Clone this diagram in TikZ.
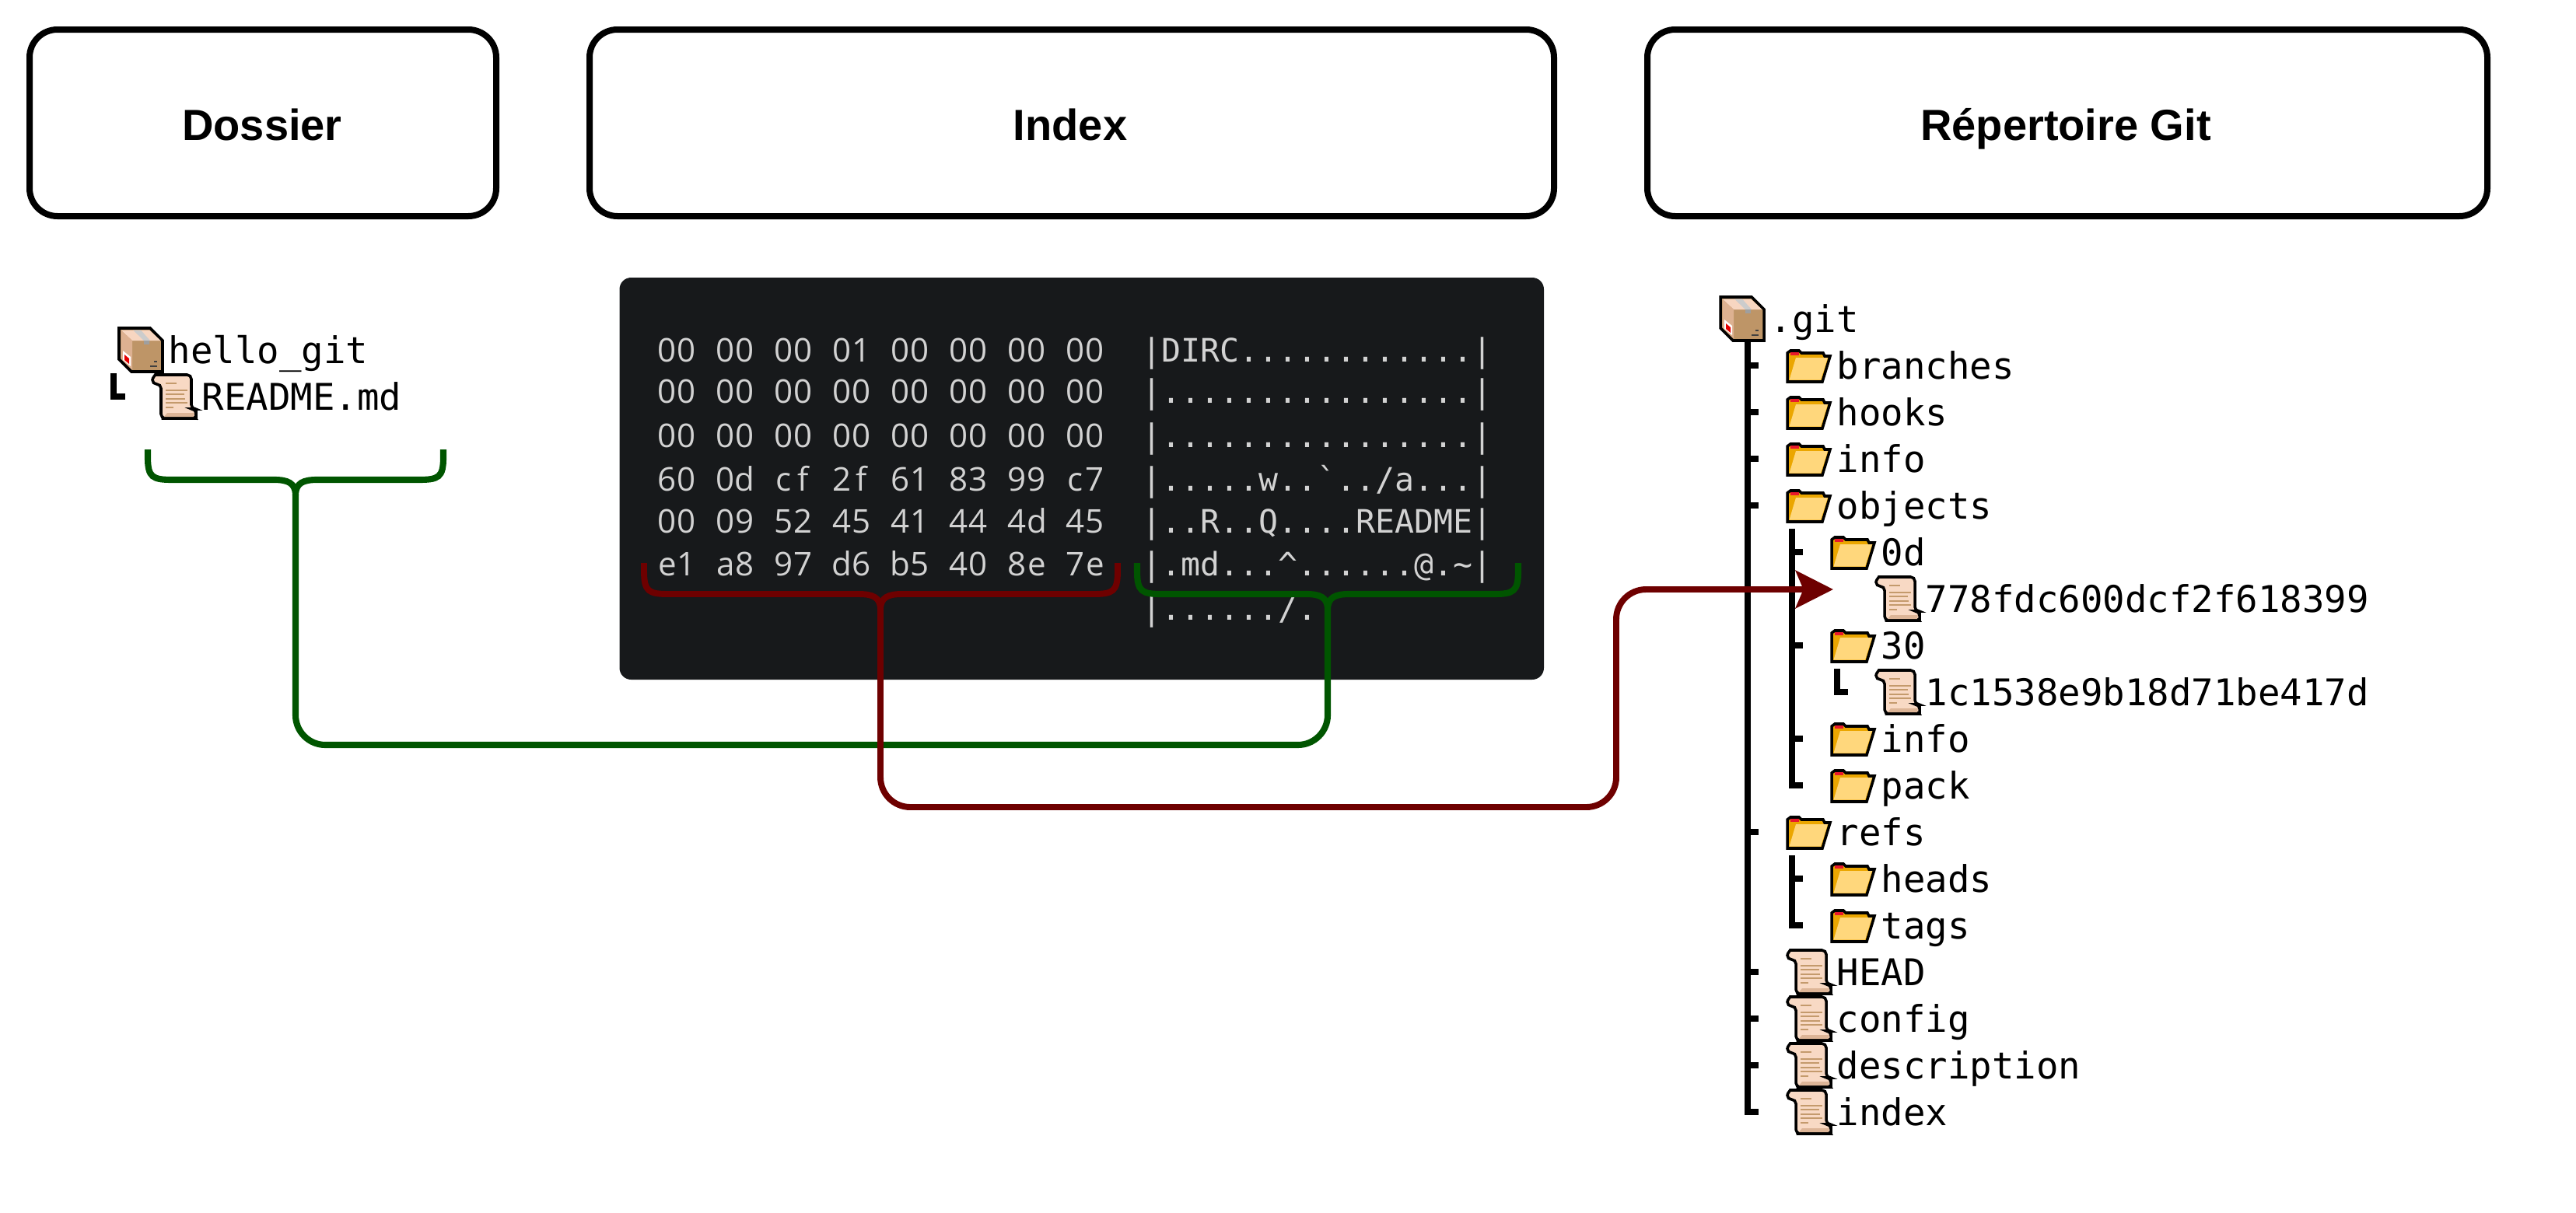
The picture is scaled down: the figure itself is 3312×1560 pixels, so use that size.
\documentclass[tikz,border=0pt]{standalone}
\usepackage{fontspec}
\usetikzlibrary{arrows.meta}
\newfontfamily\treefont{DejaVu Sans Mono}
\newfontfamily\hexfont{Open Sans}
\newfontfamily\titlefont{Liberation Sans}
\definecolor{gitgreen}{HTML}{005500}
\definecolor{gitred}{HTML}{6E0000}
\definecolor{termbg}{HTML}{17191B}
\definecolor{termfg}{HTML}{D2D2D2}
\definecolor{fOrange}{HTML}{EBA600}
\definecolor{fYellow}{HTML}{FFD77C}
\definecolor{fRed}{HTML}{E8192C}
\definecolor{paper}{HTML}{F8D9C4}
\definecolor{paperD}{HTML}{DDB597}
\definecolor{inkline}{HTML}{C49A6C}
\definecolor{boxTop}{HTML}{F7D6C1}
\definecolor{boxLeft}{HTML}{DDB191}
\definecolor{boxFront}{HTML}{BE9567}
\newcommand\hp[2]{\makebox[6pt]{#1}\makebox[6pt]{#2}\hspace{6pt}}
\tikzset{
  x=0.24pt,y=-0.24pt,
  titlebox/.style={draw=black,line width=1.92pt,rounded corners=8.6pt,fill=white},
  titletext/.style={inner sep=0pt,anchor=base,font=\titlefont\bfseries\fontsize{13.45}{16}\selectfont},
  treetext/.style={inner sep=0pt,anchor=base west,font=\treefont\fontsize{11.36}{13}\selectfont},
  hextext/.style={inner sep=0pt,anchor=base west,text=termfg,font=\hexfont\fontsize{10.1}{12}\selectfont},
  asciitext/.style={inner sep=0pt,anchor=base west,text=termfg,font=\treefont\fontsize{9.97}{12}\selectfont},
  treeline/.style={line width=1.8pt,line cap=butt,line join=miter},
  linkgreen/.style={draw=gitgreen,line width=1.95pt},
  linkred/.style={draw=gitred,line width=1.9pt},
  iconline/.style={draw=black,line width=0.85pt,line join=miter},
  foldericon/.pic={
    \path[iconline,fill=fOrange] (1,41) -- (1,4) -- (5,1) -- (16,1) -- (19,4) -- (47,4) -- (49,8) -- (56,8) -- (46,41) -- cycle;
    \fill[fYellow] (3.5,38.5) -- (12,10) -- (53,10) -- (44,38.5) -- cycle;
    \fill[fRed] (5,3) rectangle (16,7);
  },
  scrollicon/.pic={
    \path[iconline,fill=paper,rounded corners=1.3pt] (1,13) .. controls (1,5) and (5,1) .. (10,1) -- (51,1) -- (51,45) -- (57,45) -- (57,51) .. controls (57,55) and (54,57) .. (51,57) -- (18,57) -- (12,57) -- (12,13) -- cycle;
    \fill[paperD] (20,50) -- (55,50) -- (54,55) -- (16,55) -- cycle;
    \foreach \yy/\xx in {12/32,21/46,26/42,32/43,37/46,43/28}
      \draw[inkline,line width=0.4pt] (18,\yy) -- (\xx,\yy);
  },
  pkgicon/.pic={
    \path[iconline,fill=boxFront] (1,1) -- (41,1) -- (57,17) -- (57,57) -- (17,57) -- (1,41) -- cycle;
    \fill[boxTop] (3.5,3.5) -- (40,3.5) -- (54.5,17) -- (18,17) -- cycle;
    \fill[boxLeft] (3.5,3.5) -- (18,17) -- (18,54.5) -- (3.5,40) -- cycle;
    \fill[gray!40] (19,3.5) -- (29,3.5) -- (41,17) -- (33,17) -- cycle;
    \fill[gray!75] (33,17) rectangle (40,22);
    \fill[white] (6,30) -- (16,38) -- (16,50) -- (6,42) -- cycle;
    \fill[red!90!black] (8,35) -- (14,40) -- (14,47) -- (8,42) -- cycle;
    \draw[black!75,line width=0.4pt] (46,44) -- (50,44) (41,50) -- (50,50);
  },
}
\newcommand\rowlabel[4]{\node[treetext] (#1) at ({#2+64},{#3+17.5}) {#4};}
\newcommand\folderrow[4]{\pic at (#2,{#3-20}) {foldericon};\rowlabel{#1}{#2}{#3}{#4}}
\newcommand\filerow[4]{\pic at (#2,{#3-29}) {scrollicon};\rowlabel{#1}{#2}{#3}{#4}}
\newcommand\pkgrow[4]{\pic at (#2,{#3-29}) {pkgicon};\rowlabel{#1}{#2}{#3}{#4}}
% brace: left, right, tip x, top y, bar y
\newcommand\bracepath[5]{(#1,#4) -- (#1,{#4+10}) .. controls (#1,{#5-3}) and ({#1+6},#5) .. ({#1+32},#5) -- ({#3-28},#5) .. controls ({#3-10},#5) and (#3,{#5+4}) .. (#3,{#5+20}) .. controls (#3,{#5+4}) and ({#3+10},#5) .. ({#3+28},#5) -- ({#2-32},#5) .. controls ({#2-6},#5) and (#2,{#5-3}) .. (#2,{#4+10}) -- (#2,#4)}
\begin{document}
\begin{tikzpicture}
\useasboundingbox (0,0) rectangle (3312,1560);
% titles
\draw[titlebox] (38,38) rectangle (638,278);
\draw[titlebox] (758,38) rectangle (1998,278);
\draw[titlebox] (2118,38) rectangle (3198,278);
\node[titletext] (tdossier) at (337,180) {Dossier};
\node[titletext] (tindex) at (1376,180) {Index};
\node[titletext] (tgit) at (2656,180) {Répertoire Git};
% terminal
\fill[termbg,rounded corners=3.6pt] (796.5,357) rectangle (1985,874);
\node[hextext] (h1) at (844.5,465) {\hp00\hp00\hp00\hp01\hp00\hp00\hp00\hp00};
\node[hextext] (h2) at (844.5,518.5) {\hp00\hp00\hp00\hp00\hp00\hp00\hp00\hp00};
\node[hextext] (h3) at (844.5,575) {\hp00\hp00\hp00\hp00\hp00\hp00\hp00\hp00};
\node[hextext] (h4) at (844.5,631.5) {\hp60\hp0d\hp cf\hp2f\hp61\hp83\hp99\hp c7};
\node[hextext] (h5) at (844.5,685) {\hp00\hp09\hp52\hp45\hp41\hp44\hp4d\hp45};
\node[hextext] (h6) at (844.5,740.5) {\hp e1\hp a8\hp97\hp d6\hp b5\hp40\hp8e\hp7e};
\node[asciitext] (a1) at (1467.5,465) {|DIRC............|};
\node[asciitext] (a2) at (1467.5,518.5) {|................|};
\node[asciitext] (a3) at (1467.5,575) {|................|};
\node[asciitext] (a4) at (1467.5,631.5) {|.....w..`../a...|};
\node[asciitext] (a5) at (1467.5,685) {|..R..Q....README|};
\node[asciitext] (a6) at (1467.5,740.5) {|.md...\textasciicircum......@.\textasciitilde|};
\node[asciitext] (a7) at (1467.5,797) {|....../.};
% left tree
\pkgrow{hello}{152}{450}{hello\_git}
\filerow{readme}{195}{510}{README.md}
\draw[treeline] (146,480) -- (146,510) -- (161,510);
% git tree
\pkgrow{git}{2211}{410}{.git}
\coordinate (trunkTop) at (2247,440);
\coordinate (trunkEnd) at (2247,1430);
\coordinate (subTop) at (2304,680);
\coordinate (subEnd) at (2304,1010);
\coordinate (refTop) at (2304,1100);
\coordinate (refEnd) at (2304,1190);
\draw[treeline] (trunkTop) -- (trunkEnd) -- (2261,1430);
\foreach \r in {470,530,590,650,1070,1250,1310,1370}
  \draw[treeline] (2247,\r) -- (2261,\r);
\draw[treeline] (subTop) -- (subEnd) -- (2318,1010);
\foreach \r in {710,830,950}
  \draw[treeline] (2304,\r) -- (2318,\r);
\draw[treeline] (refTop) -- (refEnd) -- (2318,1190);
\draw[treeline] (2304,1130) -- (2318,1130);
\draw[treeline] (2362,860) -- (2362,890) -- (2376,890);
\folderrow{branches}{2297}{470}{branches}
\folderrow{hooks}{2297}{530}{hooks}
\folderrow{info}{2297}{590}{info}
\folderrow{objects}{2297}{650}{objects}
\folderrow{od}{2354}{710}{0d}
\filerow{obja}{2411}{770}{778fdc600dcf2f618399}
\folderrow{otr}{2354}{830}{30}
\filerow{objb}{2411}{890}{1c1538e9b18d71be417d}
\folderrow{oinfo}{2354}{950}{info}
\folderrow{opack}{2354}{1010}{pack}
\folderrow{refs}{2297}{1070}{refs}
\folderrow{heads}{2354}{1130}{heads}
\folderrow{tags}{2354}{1190}{tags}
\filerow{head}{2297}{1250}{HEAD}
\filerow{config}{2297}{1310}{config}
\filerow{description}{2297}{1370}{description}
\filerow{indexf}{2297}{1430}{index}
% connectors
\coordinate (gA) at (380,636);
\coordinate (gB) at (1707,784);
\coordinate (gC) at (380,958);
\coordinate (rA) at (1132,784);
\coordinate (rB) at (2078,1038);
\coordinate (rT) at (2357,758);
\draw[linkgreen,line cap=butt] \bracepath{190}{570}{380}{578}{617};
\draw[linkgreen,line cap=butt] \bracepath{1462}{1952}{1707}{724}{764};
\draw[linkgreen,rounded corners=9.2pt] (gB) |- (gC) -- (gA);
\draw[linkred,line cap=butt] \bracepath{828}{1437}{1132}{724}{764};
\draw[linkred,rounded corners=9.2pt,-{Stealth[length=11.6pt,width=11.6pt,inset=2.4pt]}] (rA) |- (rB) |- (rT);
\end{tikzpicture}
\end{document}
